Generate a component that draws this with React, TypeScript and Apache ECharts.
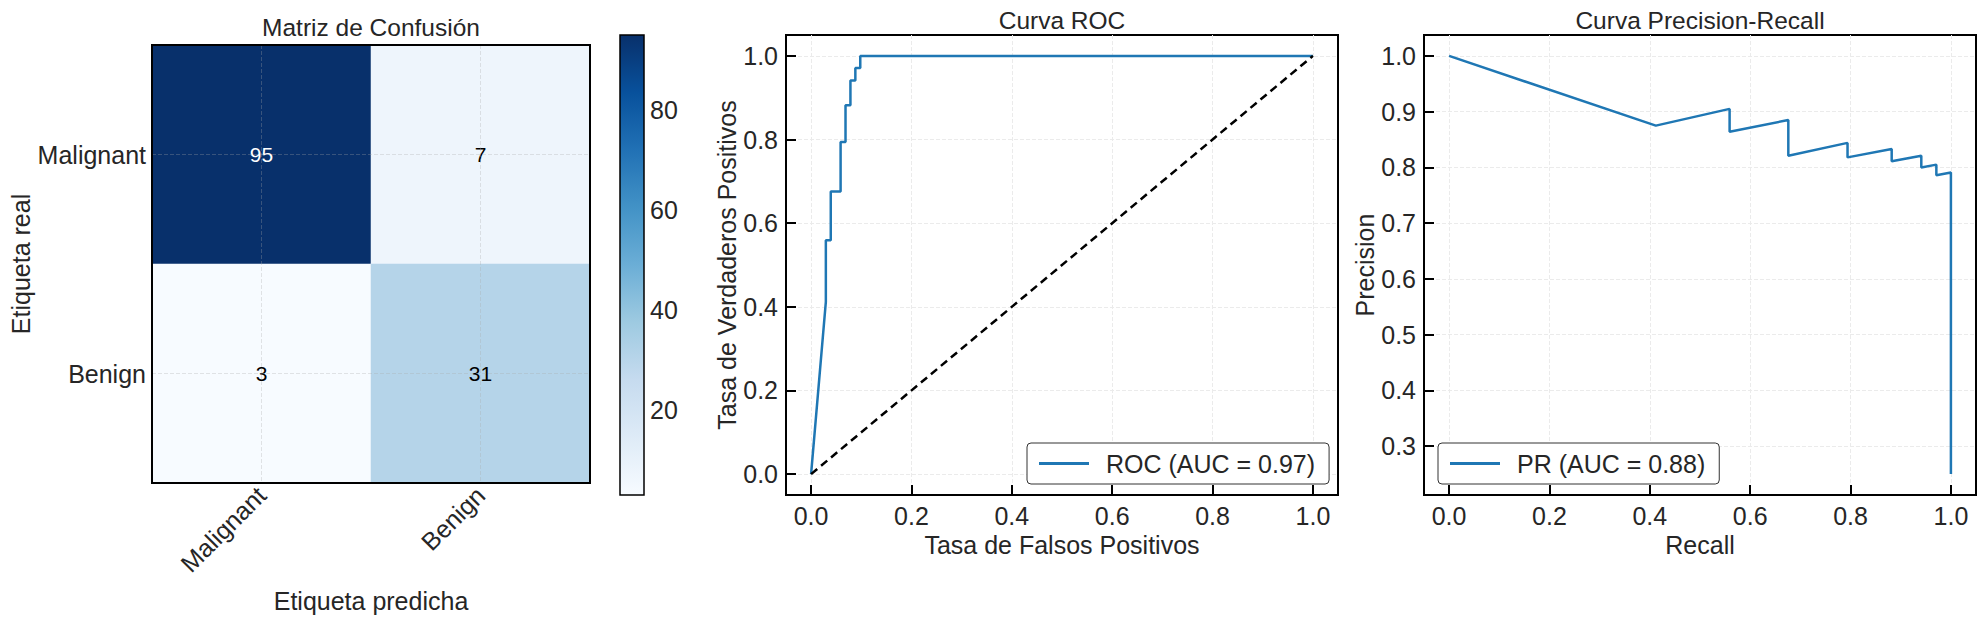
import { useEffect, useRef } from "react";
import * as echarts from "echarts";

// confusion matrix
const classes = ["Malignant", "Benign"];
const confusion = [
    [95, 7],
    [3, 31],
];
const colorbarTicks = [20, 40, 60, 80];

// ROC curve (fpr / tpr)
const rocFpr = [0, 0.0294, 0.0294, 0.0392, 0.0392, 0.0588, 0.0588, 0.0686, 0.0686, 0.0784, 0.0784, 0.0882, 0.0882, 0.098, 0.098, 1.0];
const rocTpr = [0, 0.412, 0.559, 0.559, 0.676, 0.676, 0.794, 0.794, 0.882, 0.882, 0.941, 0.941, 0.971, 0.971, 1.0, 1.0];
const chanceLine = [0, 1];

// precision-recall curve
const prRecall = [0, 0.412, 0.559, 0.559, 0.676, 0.676, 0.794, 0.794, 0.882, 0.882, 0.941, 0.941, 0.971, 0.971, 1.0, 1.0];
const prPrecision = [1.0, 0.875, 0.905, 0.864, 0.885, 0.821, 0.844, 0.818, 0.833, 0.811, 0.821, 0.8, 0.805, 0.786, 0.791, 0.25];

const unitTicks = [0, 0.2, 0.4, 0.6, 0.8, 1.0];
const precisionTicks = [0.3, 0.4, 0.5, 0.6, 0.7, 0.8, 0.9, 1.0];

const rocName = "ROC (AUC = 0.97)";
const prName = "PR (AUC = 0.88)";

const FONT = "'Liberation Sans', Arial, sans-serif";
const TEXT = "#262626";
const BLUE = "#1f77b4";
const BLUES = ["#f7fbff", "#deebf7", "#c6dbef", "#9ecae1", "#6baed6", "#4292c6", "#2171b5", "#08519c", "#08306b"];
const FS = 25;

const tickStyle = { inside: true, length: 10, lineStyle: { color: "#000", width: 2 } };
const gridLine = { show: true, lineStyle: { color: "#ebebeb", type: "dashed" as const, width: 1 } };
const nameStyle = { fontSize: FS, color: TEXT, fontFamily: FONT };

function valueAxis(gridIndex: number, min: number, max: number, ticks: number[], name: string, nameGap: number) {
    return {
        type: "value" as const,
        gridIndex,
        min,
        max,
        name,
        nameLocation: "middle" as const,
        nameGap,
        nameTextStyle: nameStyle,
        axisLine: { show: false, onZero: false },
        axisTick: { ...tickStyle, customValues: ticks },
        axisLabel: {
            customValues: ticks,
            fontSize: FS,
            color: TEXT,
            fontFamily: FONT,
            margin: 8,
            formatter: (v: number) => v.toFixed(1),
        },
        splitLine: gridLine,
    };
}

export default function App() {
    const chartRef = useRef<HTMLDivElement | null>(null);

    useEffect(() => {
        if (!chartRef.current) return;
        document.body.style.margin = "0";

        const chart = echarts.init(chartRef.current, null, { renderer: "svg" });

        const heatData: any[] = [];
        confusion.forEach((row, r) =>
            row.forEach((v, c) => {
                heatData.push({ value: [c, r, v], label: { color: v > 50 ? "#fff" : "#000" } });
            })
        );

        const cbarGradient = new echarts.graphic.LinearGradient(
            0, 0, 0, 1,
            BLUES.slice().reverse().map((color, i) => ({ offset: i / (BLUES.length - 1), color }))
        );

        const legendBase = {
            orient: "horizontal" as const,
            icon: "rect",
            itemWidth: 50,
            itemHeight: 3,
            backgroundColor: "#fff",
            borderColor: "#333",
            borderWidth: 1,
            borderRadius: 4,
            padding: [8, 14, 8, 12],
            textStyle: { fontSize: FS, color: TEXT, fontFamily: FONT, padding: [0, 0, 0, 12] },
            z: 10,
        };

        const option: echarts.EChartsOption = {
            animation: false,
            backgroundColor: "#fff",
            textStyle: { fontFamily: FONT },
            title: [
                { text: "Matriz de Confusión", left: 371, top: 15, textAlign: "center", padding: 0 },
                { text: "Curva ROC", left: 1062, top: 8, textAlign: "center", padding: 0 },
                { text: "Curva Precision-Recall", left: 1700, top: 8, textAlign: "center", padding: 0 },
            ].map((t) => ({
                ...t,
                textStyle: { fontSize: 24.5, fontWeight: "normal", color: TEXT, fontFamily: FONT },
            })) as any,
            grid: [
                { left: 152, top: 45, width: 438, height: 438, show: true, borderColor: "#000", borderWidth: 2, z: 10 },
                { left: 620, top: 35, width: 24, height: 460, show: true, borderColor: "#000", borderWidth: 1.5, backgroundColor: cbarGradient as any },
                { left: 786, top: 35, width: 552, height: 460, show: true, borderColor: "#000", borderWidth: 2 },
                { left: 1424, top: 35, width: 552, height: 460, show: true, borderColor: "#000", borderWidth: 2 },
            ],
            visualMap: {
                show: false,
                min: 3,
                max: 95,
                dimension: 2,
                seriesIndex: 0,
                inRange: { color: BLUES },
            },
            legend: [
                { ...legendBase, data: [rocName], left: 1027, top: 443 },
                { ...legendBase, data: [prName], left: 1438, top: 443 },
            ] as any,
            xAxis: [
                {
                    type: "category",
                    gridIndex: 0,
                    data: classes,
                    name: "Etiqueta predicha",
                    nameLocation: "middle",
                    nameGap: 105,
                    nameTextStyle: nameStyle,
                    axisLine: { show: false },
                    axisTick: { ...tickStyle, alignWithLabel: true },
                    axisLabel: { rotate: 45, fontSize: FS, color: TEXT, fontFamily: FONT, margin: 8 },
                    splitLine: { show: false },
                    z: 11,
                },
                { type: "value", gridIndex: 1, min: 0, max: 1, show: false },
                valueAxis(2, -0.05, 1.05, unitTicks, "Tasa de Falsos Positivos", 33),
                valueAxis(3, -0.05, 1.05, unitTicks, "Recall", 33),
            ] as any,
            yAxis: [
                {
                    type: "category",
                    gridIndex: 0,
                    data: classes,
                    inverse: true,
                    name: "Etiqueta real",
                    nameLocation: "middle",
                    nameGap: 119,
                    nameTextStyle: nameStyle,
                    axisLine: { show: false },
                    axisTick: { ...tickStyle, alignWithLabel: true },
                    axisLabel: { fontSize: FS, color: TEXT, fontFamily: FONT, margin: 6 },
                    splitLine: { show: false },
                    z: 11,
                },
                {
                    type: "value",
                    gridIndex: 1,
                    min: 3,
                    max: 95,
                    position: "right",
                    axisLine: { show: false, onZero: false },
                    axisTick: { show: false, customValues: colorbarTicks },
                    axisLabel: { customValues: colorbarTicks, fontSize: FS, color: TEXT, fontFamily: FONT, margin: 6 },
                    splitLine: { show: false },
                },
                valueAxis(2, -0.05, 1.05, unitTicks, "Tasa de Verdaderos Positivos", 47),
                valueAxis(3, 0.2125, 1.0375, precisionTicks, "Precision", 29),
            ] as any,
            series: [
                {
                    type: "heatmap",
                    xAxisIndex: 0,
                    yAxisIndex: 0,
                    data: heatData,
                    label: { show: true, fontSize: 21, fontFamily: FONT },
                    emphasis: { disabled: true },
                    markLine: {
                        silent: true,
                        symbol: "none",
                        label: { show: false },
                        lineStyle: { color: "rgba(170,170,170,0.3)", type: "dashed", width: 1 },
                        data: [
                            { xAxis: classes[0] },
                            { xAxis: classes[1] },
                            { yAxis: classes[0] },
                            { yAxis: classes[1] },
                        ],
                    },
                },
                {
                    name: rocName,
                    type: "line",
                    xAxisIndex: 2,
                    yAxisIndex: 2,
                    data: rocFpr.map((x, i) => [x, rocTpr[i]]),
                    showSymbol: false,
                    color: BLUE,
                    lineStyle: { color: BLUE, width: 2.5 },
                    z: 3,
                },
                {
                    type: "line",
                    xAxisIndex: 2,
                    yAxisIndex: 2,
                    data: chanceLine.map((v) => [v, v]),
                    showSymbol: false,
                    color: "#000",
                    lineStyle: { color: "#000", width: 2.5, type: [8, 5] },
                    z: 4,
                },
                {
                    name: prName,
                    type: "line",
                    xAxisIndex: 3,
                    yAxisIndex: 3,
                    data: prRecall.map((x, i) => [x, prPrecision[i]]),
                    showSymbol: false,
                    color: BLUE,
                    lineStyle: { color: BLUE, width: 2.5 },
                    z: 3,
                },
            ],
        };

        chart.setOption(option);

        return () => {
            chart.dispose();
        };
    }, []);

    return <div ref={chartRef} style={{ width: "1984px", height: "625px" }} />;
}
